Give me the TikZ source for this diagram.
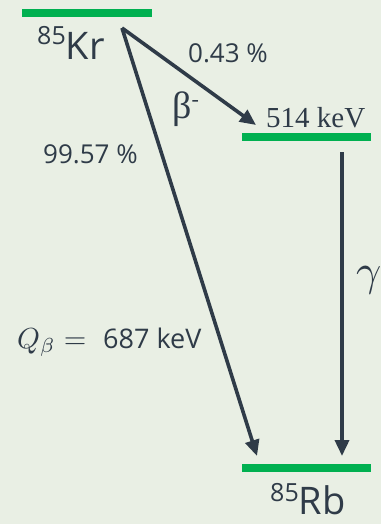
\documentclass[tikz,border=0pt]{standalone}
\usepackage{graphicx}
\usepackage{fontspec}
\setmainfont{Open Sans}
\newfontfamily\serifgr{Liberation Serif}
\usetikzlibrary{arrows.meta}
\definecolor{bgc}{HTML}{E9EFE4}
\definecolor{linec}{HTML}{2F3B48}
\definecolor{levc}{HTML}{00B050}
\begin{document}
\begin{tikzpicture}[x=1pt,y=-1pt,
  lev/.style={draw=none,fill=levc,minimum height=7.5pt,inner sep=0pt,anchor=west},
  arr/.style={draw=linec,line width=3.6pt,-{Triangle[length=16pt,width=14pt]}},
  txt/.style={text=linec,inner sep=0pt,anchor=base west},
  fs/.style={font=\fontsize{#1}{#1}\selectfont}]
\fill[bgc] (0,0) rectangle (381,524);
\useasboundingbox (0,0) rectangle (381,524);
% levels
\node[lev,minimum width=130pt] (krlev) at (22,13) {};
\node[lev,minimum width=129pt] (exlev) at (242,137) {};
\node[lev,minimum width=129pt] (rblev) at (242,468) {};
% arrow anchors
\coordinate (s) at (122,28);
\coordinate (e1) at (256,125);
\coordinate (e2) at (257,456);
\coordinate (gs) at (342,152);
\coordinate (ge) at (342,456);
\draw[arr] (s) -- (e1);
\draw[arr] (s) -- (e2);
\draw[arr] (gs) -- (ge);
% labels
\node[txt] (kr) at (37,60) {\raisebox{15pt}{\fontsize{25}{25}\selectfont 85}\fontsize{38}{38}\selectfont Kr};
\node[txt] (rb) at (270,514) {\raisebox{13pt}{\fontsize{25}{25}\selectfont 85}\fontsize{38}{38}\selectfont Rb};
\node[txt,fs=26] (p1) at (188,63) {0.43 \%};
\node[txt,fs=26] (p2) at (43,163) {99.57 \%};
\node[txt,font=\serifgr\fontsize{29}{29}\selectfont] (ex) at (266,128) {514 keV};
\node[txt,font=\serifgr\fontsize{38}{38}\selectfont] (beta) at (172,118) {β\raisebox{12pt}{\fontsize{22}{22}\selectfont -}};
\node[txt] (gam) at (356,285) {\scalebox{4.4}{$\gamma$}};
\node[txt] (q) at (17,348) {\scalebox{2.9}{$Q_\beta =$}};
\node[txt,fs=27] (qv) at (103,348) {687 keV};
\end{tikzpicture}
\end{document}
